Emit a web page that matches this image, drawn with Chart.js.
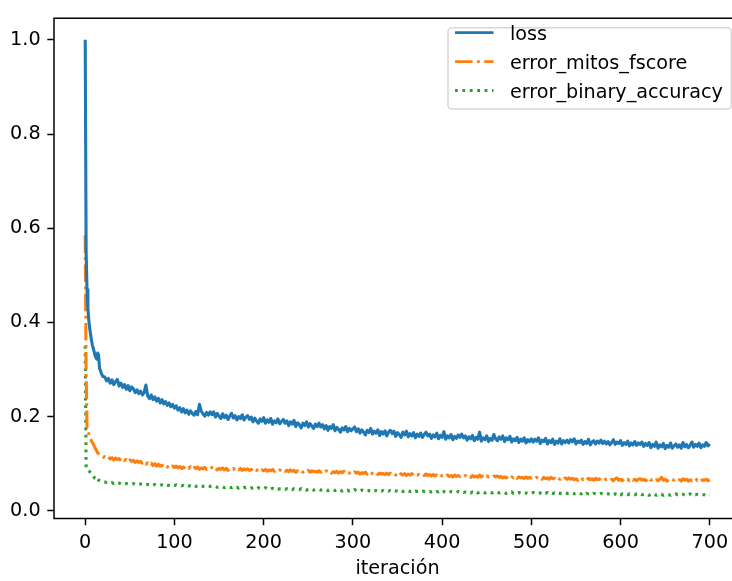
<!DOCTYPE html>
<html><head><meta charset="utf-8">
<script src="https://cdn.jsdelivr.net/npm/chart.js@4/dist/chart.umd.min.js"></script>
<style>html,body{margin:0;padding:0;background:#fff;overflow:hidden}#wrap{width:732px;height:581px;overflow:hidden;position:relative}</style>
</head><body><div id="wrap"><canvas id="c" width="744" height="581" style="width:744px;height:581px"></canvas></div>
<script>
const iters = [0,1,2,3,4,5,6,7,8,9,10,11,12,13,14,15,16,17,18,19,20,
22,24,26,28,30,32,34,36,38,40,42,44,46,48,50,52,54,56,58,60,
62,64,66,68,70,72,74,76,78,80,82,84,86,88,90,92,94,96,98,100,
102,104,106,108,110,112,114,116,118,120,122,124,126,128,130,132,134,136,138,140,
142,144,146,148,150,152,154,156,158,160,162,164,166,168,170,172,174,176,178,180,
182,184,186,188,190,192,194,196,198,200,202,204,206,208,210,212,214,216,218,220,
222,224,226,228,230,232,234,236,238,240,242,244,246,248,250,252,254,256,258,260,
262,264,266,268,270,272,274,276,278,280,282,284,286,288,290,292,294,296,298,300,
302,304,306,308,310,312,314,316,318,320,322,324,326,328,330,332,334,336,338,340,
342,344,346,348,350,352,354,356,358,360,362,364,366,368,370,372,374,376,378,380,
382,384,386,388,390,392,394,396,398,400,402,404,406,408,410,412,414,416,418,420,
422,424,426,428,430,432,434,436,438,440,442,444,446,448,450,452,454,456,458,460,
462,464,466,468,470,472,474,476,478,480,482,484,486,488,490,492,494,496,498,500,
502,504,506,508,510,512,514,516,518,520,522,524,526,528,530,532,534,536,538,540,
542,544,546,548,550,552,554,556,558,560,562,564,566,568,570,572,574,576,578,580,
582,584,586,588,590,592,594,596,598,600,602,604,606,608,610,612,614,616,618,620,
622,624,626,628,630,632,634,636,638,640,642,644,646,648,650,652,654,656,658,660,
662,664,666,668,670,672,674,676,678,680,682,684,686,688,690,692,694,696,698,700];

const loss = [1.0,0.55,0.47,0.43,0.405,0.388,0.375,0.362,0.352,0.345,0.338,0.330,0.325,0.322,0.335,0.330,0.303,0.298,0.292,0.288,0.285,
0.284,0.276,0.281,0.271,0.278,0.268,0.274,0.279,0.265,0.271,0.262,0.268,0.258,0.266,0.255,0.263,0.259,0.251,0.257,0.249,
0.254,0.246,0.251,0.267,0.244,0.238,0.246,0.236,0.242,0.233,0.239,0.229,0.236,0.227,0.232,0.224,0.229,0.221,0.226,0.218,
0.223,0.214,0.219,0.210,0.217,0.208,0.214,0.205,0.212,0.207,0.203,0.211,0.204,0.226,0.212,0.206,0.201,0.209,0.203,0.210,
0.204,0.210,0.199,0.207,0.201,0.196,0.206,0.198,0.203,0.194,0.201,0.207,0.197,0.202,0.193,0.200,0.196,0.204,0.193,0.199,
0.202,0.194,0.199,0.189,0.197,0.191,0.186,0.195,0.190,0.198,0.186,0.193,0.188,0.196,0.184,0.191,0.187,0.195,0.185,0.190,
0.194,0.186,0.191,0.181,0.189,0.184,0.192,0.179,0.187,0.183,0.176,0.186,0.181,0.189,0.178,0.185,0.180,0.175,0.184,0.179,
0.186,0.178,0.183,0.174,0.181,0.171,0.179,0.175,0.183,0.170,0.177,0.173,0.167,0.176,0.172,0.179,0.168,0.175,0.170,0.174,
0.178,0.168,0.174,0.165,0.172,0.167,0.161,0.171,0.166,0.175,0.163,0.169,0.165,0.172,0.160,0.168,0.163,0.170,0.159,0.167,
0.171,0.164,0.169,0.158,0.166,0.162,0.156,0.167,0.161,0.169,0.157,0.164,0.159,0.166,0.155,0.163,0.158,0.165,0.156,0.162,
0.167,0.159,0.163,0.154,0.161,0.157,0.165,0.153,0.160,0.156,0.168,0.152,0.159,0.155,0.162,0.151,0.158,0.154,0.161,0.156,
0.163,0.155,0.159,0.150,0.157,0.153,0.160,0.149,0.156,0.152,0.167,0.148,0.155,0.151,0.159,0.147,0.154,0.150,0.162,0.153,
0.149,0.157,0.152,0.159,0.147,0.155,0.151,0.158,0.146,0.153,0.149,0.156,0.145,0.152,0.148,0.155,0.144,0.151,0.147,0.153,
0.146,0.152,0.148,0.155,0.143,0.150,0.147,0.154,0.142,0.149,0.145,0.152,0.141,0.148,0.144,0.153,0.142,0.149,0.145,0.150,
0.144,0.151,0.147,0.153,0.142,0.148,0.145,0.150,0.141,0.147,0.143,0.152,0.140,0.146,0.149,0.142,0.148,0.144,0.150,0.143,
0.148,0.142,0.147,0.140,0.145,0.151,0.141,0.146,0.143,0.149,0.139,0.145,0.141,0.148,0.138,0.144,0.140,0.147,0.139,0.144,
0.141,0.146,0.137,0.143,0.139,0.145,0.134,0.141,0.137,0.146,0.133,0.140,0.136,0.143,0.132,0.139,0.135,0.144,0.133,0.138,
0.142,0.135,0.140,0.133,0.145,0.136,0.141,0.134,0.139,0.146,0.135,0.141,0.137,0.144,0.134,0.140,0.137,0.145,0.138,0.142];

const errorMitosFscore = [0.585,0.30,0.178,0.168,0.163,0.158,0.153,0.148,0.145,0.142,0.138,0.134,0.130,0.127,0.123,0.121,0.119,0.117,0.116,0.115,0.114,
0.115,0.111,0.114,0.110,0.113,0.108,0.112,0.109,0.111,0.106,0.110,0.107,0.109,0.104,0.108,0.105,0.107,0.103,0.106,0.103,
0.105,0.101,0.104,0.099,0.102,0.098,0.101,0.096,0.100,0.095,0.099,0.095,0.097,0.094,0.097,0.093,0.096,0.092,0.095,0.092,
0.095,0.091,0.094,0.090,0.093,0.089,0.092,0.090,0.094,0.089,0.092,0.090,0.093,0.088,0.091,0.089,0.092,0.088,0.091,0.089,
0.092,0.088,0.091,0.087,0.090,0.088,0.091,0.087,0.090,0.086,0.089,0.087,0.090,0.086,0.089,0.087,0.090,0.086,0.089,0.087,
0.089,0.086,0.088,0.085,0.089,0.086,0.088,0.084,0.087,0.085,0.088,0.084,0.087,0.085,0.088,0.084,0.087,0.085,0.087,0.084,
0.087,0.084,0.086,0.083,0.087,0.084,0.086,0.082,0.085,0.083,0.086,0.082,0.085,0.083,0.086,0.082,0.085,0.083,0.084,0.082,
0.085,0.082,0.084,0.081,0.085,0.082,0.084,0.080,0.083,0.081,0.084,0.080,0.083,0.081,0.084,0.080,0.082,0.080,0.083,0.080,
0.083,0.080,0.082,0.078,0.081,0.079,0.082,0.078,0.081,0.077,0.080,0.078,0.081,0.077,0.080,0.078,0.079,0.077,0.080,0.077,
0.080,0.077,0.079,0.076,0.080,0.083,0.078,0.076,0.079,0.075,0.078,0.076,0.079,0.075,0.078,0.076,0.077,0.075,0.078,0.075,
0.078,0.075,0.077,0.074,0.077,0.074,0.076,0.073,0.077,0.074,0.076,0.073,0.076,0.073,0.075,0.072,0.076,0.073,0.075,0.073,
0.076,0.073,0.075,0.072,0.074,0.071,0.075,0.072,0.074,0.071,0.076,0.072,0.074,0.071,0.074,0.072,0.073,0.071,0.074,0.072,
0.074,0.071,0.073,0.070,0.072,0.070,0.073,0.069,0.072,0.070,0.073,0.069,0.072,0.070,0.071,0.069,0.072,0.069,0.071,0.070,
0.072,0.069,0.071,0.068,0.070,0.067,0.071,0.068,0.070,0.067,0.071,0.068,0.069,0.066,0.070,0.067,0.069,0.066,0.070,0.067,
0.070,0.067,0.069,0.066,0.068,0.065,0.069,0.071,0.066,0.068,0.065,0.069,0.066,0.068,0.065,0.069,0.066,0.068,0.065,0.068,
0.069,0.066,0.068,0.065,0.067,0.064,0.068,0.070,0.065,0.067,0.064,0.068,0.065,0.067,0.064,0.068,0.065,0.067,0.064,0.067,
0.068,0.065,0.067,0.064,0.066,0.070,0.065,0.067,0.063,0.066,0.064,0.067,0.071,0.065,0.067,0.063,0.066,0.064,0.067,0.065,
0.067,0.064,0.066,0.063,0.068,0.065,0.067,0.063,0.066,0.064,0.067,0.069,0.064,0.066,0.063,0.066,0.065,0.067,0.064,0.066];

const errorBinaryAccuracy = [0.35,0.092,0.088,0.086,0.085,0.083,0.081,0.079,0.076,0.073,0.071,0.069,0.068,0.071,0.067,0.065,0.064,0.063,0.062,0.062,0.061,
0.061,0.060,0.061,0.059,0.060,0.058,0.060,0.059,0.059,0.057,0.059,0.058,0.058,0.057,0.058,0.057,0.058,0.056,0.057,0.056,
0.057,0.056,0.057,0.055,0.056,0.055,0.056,0.054,0.056,0.055,0.055,0.054,0.055,0.053,0.055,0.054,0.054,0.053,0.055,0.054,
0.055,0.053,0.054,0.053,0.054,0.052,0.054,0.053,0.053,0.052,0.054,0.052,0.053,0.051,0.053,0.052,0.052,0.051,0.053,0.052,
0.052,0.051,0.052,0.050,0.051,0.050,0.051,0.049,0.051,0.050,0.050,0.049,0.051,0.049,0.050,0.048,0.050,0.049,0.050,0.049,
0.050,0.048,0.049,0.048,0.049,0.047,0.049,0.048,0.048,0.047,0.049,0.047,0.048,0.046,0.048,0.047,0.048,0.046,0.047,0.047,
0.048,0.046,0.047,0.046,0.047,0.045,0.047,0.046,0.046,0.045,0.047,0.045,0.046,0.044,0.046,0.045,0.046,0.044,0.045,0.045,
0.046,0.044,0.045,0.044,0.045,0.043,0.045,0.044,0.044,0.043,0.045,0.043,0.044,0.042,0.044,0.043,0.044,0.042,0.044,0.043,
0.045,0.043,0.044,0.042,0.044,0.043,0.044,0.042,0.043,0.042,0.044,0.042,0.043,0.041,0.043,0.042,0.043,0.041,0.043,0.042,
0.043,0.041,0.043,0.042,0.042,0.040,0.042,0.041,0.042,0.040,0.042,0.041,0.042,0.040,0.042,0.041,0.041,0.040,0.042,0.041,
0.042,0.040,0.041,0.040,0.041,0.039,0.041,0.040,0.042,0.039,0.041,0.040,0.041,0.039,0.041,0.040,0.040,0.039,0.041,0.040,
0.041,0.039,0.040,0.039,0.040,0.038,0.040,0.039,0.041,0.038,0.040,0.039,0.040,0.038,0.040,0.039,0.039,0.038,0.040,0.039,
0.040,0.038,0.039,0.038,0.039,0.037,0.039,0.038,0.040,0.037,0.039,0.038,0.039,0.037,0.039,0.038,0.038,0.037,0.039,0.038,
0.039,0.037,0.038,0.037,0.038,0.036,0.038,0.037,0.039,0.036,0.038,0.037,0.038,0.036,0.038,0.037,0.037,0.036,0.038,0.037,
0.038,0.036,0.037,0.036,0.037,0.035,0.037,0.036,0.038,0.035,0.037,0.036,0.037,0.035,0.037,0.036,0.036,0.035,0.037,0.036,
0.037,0.035,0.036,0.035,0.036,0.034,0.036,0.035,0.037,0.034,0.036,0.035,0.036,0.034,0.036,0.035,0.035,0.034,0.036,0.035,
0.036,0.034,0.035,0.034,0.035,0.033,0.035,0.034,0.036,0.033,0.035,0.034,0.035,0.033,0.035,0.034,0.034,0.033,0.035,0.034,
0.036,0.034,0.035,0.034,0.035,0.033,0.035,0.034,0.036,0.033,0.035,0.034,0.035,0.034,0.035,0.034,0.034,0.033,0.035,0.034];

const seriesLabels = ['loss', 'error_mitos_fscore', 'error_binary_accuracy'];
const xTicks = [0, 100, 200, 300, 400, 500, 600, 700];
const yTicks = [0.0, 0.2, 0.4, 0.6, 0.8, 1.0];
const xTitle = 'iteración';

const FONT = 'DejaVu Sans';
const FS = 19.2;
const LW = 3.1;

function pts(arr) { return iters.map((x, i) => ({ x: x, y: arr[i] })); }

const framePlugin = {
  id: 'frame',
  afterDatasetsDraw(chart) {
    const a = chart.chartArea, ctx = chart.ctx;
    ctx.save();
    ctx.strokeStyle = '#000';
    ctx.lineWidth = 1.5;
    ctx.strokeRect(a.left, a.top, a.right - a.left, a.bottom - a.top);
    ctx.restore();
  }
};

const legendPlugin = {
  id: 'mplLegend',
  afterDatasetsDraw(chart) {
    const ctx = chart.ctx;
    const a = chart.chartArea;
    const right = a.right - 9.6, top = a.top + 9.6;
    const left = 448, bottom = 109;
    ctx.save();
    ctx.beginPath();
    ctx.roundRect(left, top, right - left, bottom - top, 3.8);
    ctx.fillStyle = 'rgba(255,255,255,0.8)';
    ctx.fill();
    ctx.strokeStyle = 'rgba(204,204,204,0.8)';
    ctx.lineWidth = 1.5;
    ctx.stroke();
    const rowY = [32.7, 61.7, 90.5];
    chart.data.datasets.forEach((ds, i) => {
      const y = rowY[i];
      ctx.beginPath();
      ctx.setLineDash(ds.borderDash || []);
      ctx.lineCap = 'butt';
      ctx.strokeStyle = ds.borderColor;
      ctx.lineWidth = 2.8;
      ctx.moveTo(455, y);
      ctx.lineTo(493.5, y);
      ctx.stroke();
      ctx.setLineDash([]);
      ctx.fillStyle = '#000';
      ctx.font = FS + 'px "' + FONT + '"';
      ctx.textBaseline = 'alphabetic';
      ctx.textAlign = 'left';
      ctx.fillText(ds.label, 510, y + 7.2);
    });
    ctx.restore();
  }
};

new Chart(document.getElementById('c'), {
  type: 'line',
  data: {
    datasets: [
      { label: seriesLabels[0], data: pts(loss), borderColor: '#1f77b4', borderWidth: LW,
        pointRadius: 0, tension: 0, fill: false, borderJoinStyle: 'round', borderCapStyle: 'butt' },
      { label: seriesLabels[1], data: pts(errorMitosFscore), borderColor: '#ff7f0e', borderWidth: LW,
        borderDash: [17.6, 4.4, 2.8, 4.4], pointRadius: 0, tension: 0, fill: false, borderJoinStyle: 'round', borderCapStyle: 'butt' },
      { label: seriesLabels[2], data: pts(errorBinaryAccuracy), borderColor: '#2ca02c', borderWidth: LW,
        borderDash: [2.8, 4.6], pointRadius: 0, tension: 0, fill: false, borderJoinStyle: 'round', borderCapStyle: 'butt' }
    ]
  },
  options: {
    responsive: false,
    animation: false,
    devicePixelRatio: 1,
    layout: { padding: { top: 9, right: 3, left: 0, bottom: 0 } },
    plugins: { legend: { display: false }, tooltip: { enabled: false }, title: { display: false } },
    scales: {
      x: {
        type: 'linear', min: -35, max: 735,
        afterBuildTicks: s => { s.ticks = xTicks.map(v => ({ value: v })); },
        afterFit: s => { s.height = 62.5; },
        grid: { display: true, drawOnChartArea: false, drawTicks: true, tickLength: 6.7, tickWidth: 1.5, tickColor: '#000' },
        border: { display: false },
        ticks: { color: '#000', font: { family: FONT, size: FS }, padding: 6, maxRotation: 0, autoSkip: false,
          callback: v => String(v) },
        title: { display: true, text: xTitle, color: '#000', font: { family: FONT, size: FS }, padding: { top: 0, bottom: 0 } }
      },
      y: {
        type: 'linear', min: -0.0163, max: 1.0459,
        afterBuildTicks: s => { s.ticks = yTicks.map(v => ({ value: v })); },
        afterFit: s => { s.width = 54; },
        grid: { display: true, drawOnChartArea: false, drawTicks: true, tickLength: 6.7, tickWidth: 1.5, tickColor: '#000' },
        border: { display: false },
        ticks: { color: '#000', font: { family: FONT, size: FS }, padding: 6.7, autoSkip: false,
          callback: v => Number(v).toFixed(1) }
      }
    }
  },
  plugins: [framePlugin, legendPlugin]
});
</script>
</body></html>
